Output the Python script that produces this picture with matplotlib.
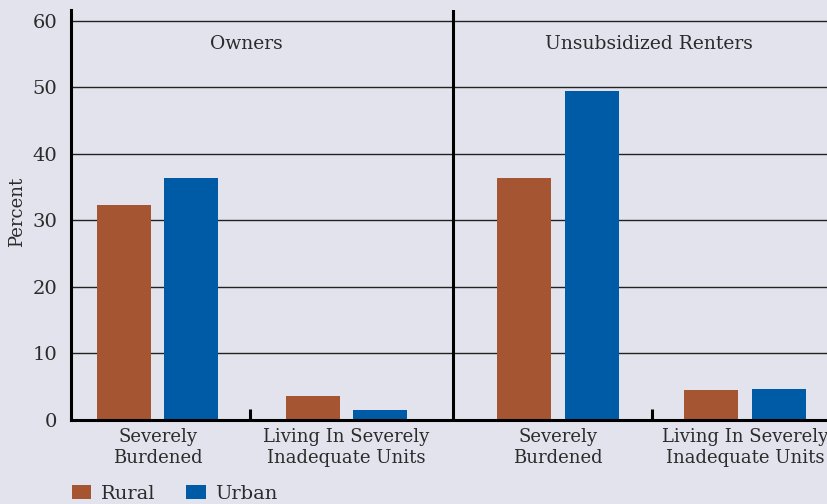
import matplotlib
matplotlib.use("Agg")
import matplotlib.pyplot as plt
from matplotlib.patches import Patch
import numpy as np

panels = ["Owners", "Unsubsidized Renters"]
categories = ["Severely\nBurdened", "Living In Severely\nInadequate Units"]
rural = [32.3, 3.6, 36.3, 4.5]
urban = [36.4, 1.5, 49.5, 4.7]
yticks = [0, 10, 20, 30, 40, 50, 60]

BG = "#E3E3EE"
C_RURAL = "#A65532"
C_URBAN = "#005BA6"
TXT = "#2b2b2b"
plt.rcParams['font.family'] = ['DejaVu Serif']

fig = plt.figure(figsize=(8.28, 5.04), dpi=100, facecolor=BG)
ax = fig.add_axes([71/828, 1 - 420/504, 1 - 71/828, 410/504])
ax.set_facecolor(BG)

xpos = np.array([0.0, 1.0, 2.12, 3.11])
w = 0.286
off = 0.179
ax.bar(xpos - off, rural, width=w, color=C_RURAL, zorder=3)
ax.bar(xpos + off, urban, width=w, color=C_URBAN, zorder=3)

ax.set_xlim(-0.458, 3.55)
ax.set_ylim(0, 61.6)
ax.set_yticks(yticks)
ax.set_yticklabels([str(t) for t in yticks], fontsize=14, color=TXT)
for t in yticks[1:]:
    ax.axhline(t, color="#222222", lw=1.0, zorder=1)

ax.set_xticks(xpos)
ax.set_xticklabels(categories * 2, fontsize=13, color=TXT, linespacing=1.2)
ax.tick_params(axis="x", length=0, pad=6)
ax.tick_params(axis="y", length=0, pad=10)

for s in ["top", "right"]:
    ax.spines[s].set_visible(False)
ax.spines["left"].set_linewidth(2.2)
ax.spines["bottom"].set_linewidth(2.2)
ax.spines["left"].set_zorder(4)
ax.spines["bottom"].set_zorder(4)

divider = 1.565
ax.axvline(divider, color="black", lw=2.2, zorder=4)
for tx in [0.49, 2.62]:
    ax.plot([tx, tx], [0, 1.6], color="black", lw=2.2, zorder=4, solid_capstyle="butt")

panel_centers = [0.47, 2.6]
for pc, name in zip(panel_centers, panels):
    ax.text(pc, 56.5, name, ha="center", va="center", fontsize=13.5, color=TXT)

fig.text(17/828, 1 - 212/504, "Percent", rotation=90, ha="center", va="center",
         fontsize=13, color=TXT)

handles = [Patch(facecolor=C_RURAL, label="Rural"), Patch(facecolor=C_URBAN, label="Urban")]
fig.legend(handles=handles, loc="center left", bbox_to_anchor=(54/828, 1 - 494/504),
           ncol=2, frameon=False, fontsize=14, handlelength=1.0, handleheight=0.7,
           columnspacing=1.6, handletextpad=0.5, labelcolor=TXT)

fig.savefig("out.png", dpi=100, facecolor=BG)
